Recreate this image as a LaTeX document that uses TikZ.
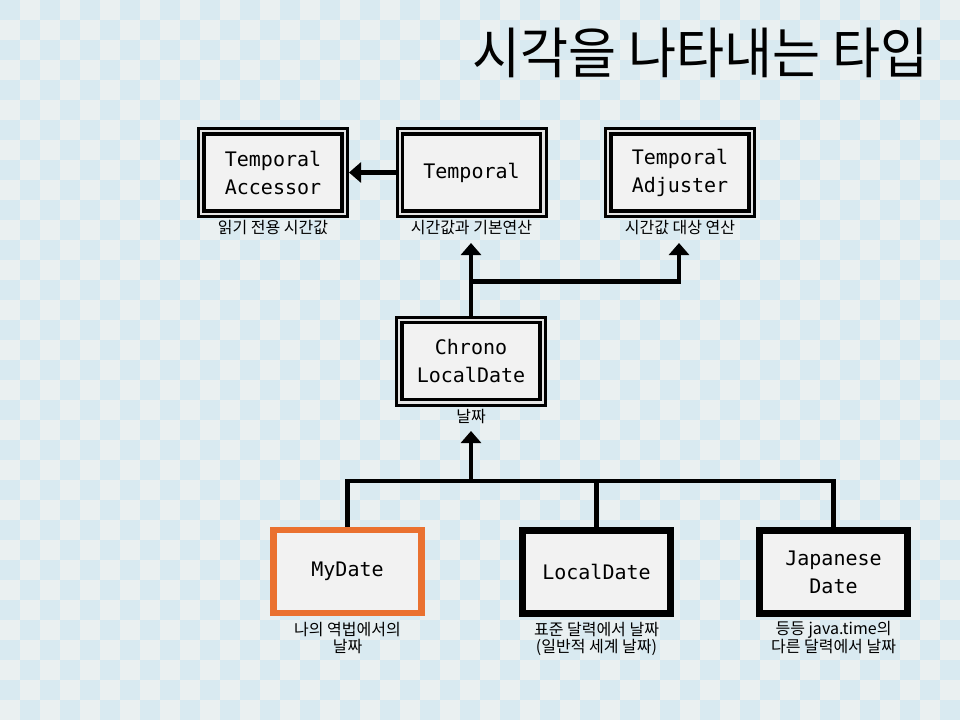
\documentclass[tikz,border=0pt]{standalone}
\usepackage{fontspec}
\newfontfamily\krfont{Noto Sans CJK KR}
\newfontfamily\titlefont[FakeStretch=0.95]{Noto Sans CJK KR}
\newfontfamily\codefont{DejaVu Sans Mono}
\usetikzlibrary{arrows.meta,calc}
\definecolor{bgblue}{HTML}{D9EAF1}
\definecolor{bglight}{HTML}{EAF0F1}
\definecolor{boxfill}{HTML}{F2F2F2}
\definecolor{gapgray}{HTML}{E4E4E4}
\definecolor{myorange}{HTML}{EA7130}
\begin{document}
\begin{tikzpicture}[x=1pt,y=-1pt,
  dblbox/.style={draw=black, line width=3.5pt, fill=boxfill,
    minimum width=138pt, minimum height=77pt, inner sep=0pt, outer sep=7pt,
    preaction={draw=black, line width=14pt},
    preaction={draw=gapgray, line width=8pt},
    font=\codefont\fontsize{20}{28}\selectfont, align=center},
  thickbox/.style={draw=black, line width=7pt, fill=boxfill,
    minimum width=148pt, minimum height=83pt, inner sep=0pt,
    font=\codefont\fontsize{20}{28}\selectfont, align=center},
  conn/.style={line width=4.2pt, -{Triangle[width=20pt,length=12pt]}},
  link/.style={line width=4.2pt},
  lbl/.style={font=\krfont\fontsize{16}{17}\selectfont, align=center, anchor=base, inner sep=0pt}
]
\useasboundingbox (0,0) rectangle (960,720);
% checkerboard background
\fill[bgblue] (0,0) rectangle (960,720);
\foreach \i in {0,40,...,920}{\foreach \j in {20,60,...,700}{\fill[bglight] (\i,\j) rectangle ++(20,20);}}
\foreach \i in {20,60,...,940}{\foreach \j in {0,40,...,680}{\fill[bglight] (\i,\j) rectangle ++(20,20);}}

% title
\node[anchor=base east, inner sep=0pt, font=\titlefont\fontsize{55}{60}\selectfont] (title) at (929,73) {시각을 나타내는 타입};

% boxes
\node[dblbox] (acc) at (273,172.5) {Temporal\\Accessor};
\node[dblbox] (temp) at (471.5,172.5) {Temporal};
\node[dblbox] (adj) at (680,172.5) {Temporal\\Adjuster};
\node[dblbox] (chrono) at (471,361) {Chrono\\LocalDate};
\node[thickbox, draw=myorange, line width=6.5pt] (my) at (347.5,571.5) {MyDate};
\node[thickbox] (loc) at (596.5,572) {LocalDate};
\node[thickbox] (jp) at (833.5,572) {Japanese\\Date};

% labels
\node[lbl] (accl) at (273,233.3) {읽기 전용 시간값};
\node[lbl] (templ) at (471.5,233.3) {시간값과 기본연산};
\node[lbl] (adjl) at (680,233.3) {시간값 대상 연산};
\node[lbl] (chronol) at (471,422.3) {날짜};
\node[lbl] (myl) at (347.5,652.3) {나의 역법에서의\\날짜};
\node[lbl] (locl) at (596.5,652.3) {표준 달력에서 날짜\\(일반적 세계 날짜)};
\node[lbl] (jpl) at (833.5,652.3) {등등 java.time의\\다른 달력에서 날짜};

% connectors
\coordinate (tin) at (471,243);
\coordinate (j1) at (471,281.5);
\coordinate (c1) at (679,281.5);
\coordinate (ain) at (679,243);
\coordinate (bj) at (471,481);
\coordinate (bin) at (471,431);
\draw[conn] (temp.west) -- (acc.east);
\draw[conn] (chrono.north) -- (tin);
\draw[conn] (j1) -- (c1) -- (ain);
\draw[conn] (bj) -- (bin);
\draw[link] (my.north) |- (bj) -| (jp.north);
\draw[link] (loc.north) -- (loc.north |- bj);
\end{tikzpicture}
\end{document}
